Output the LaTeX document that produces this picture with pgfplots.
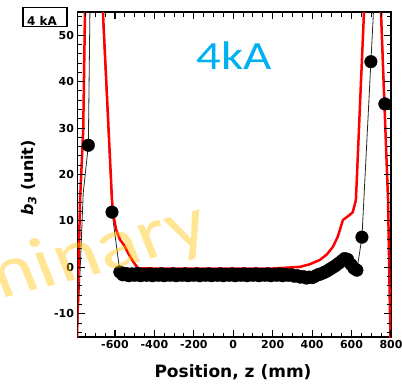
\documentclass[border=0pt]{standalone}
\usepackage{pgfplots}
\pgfplotsset{compat=1.18}
\usepackage{fontspec}
\setmainfont{DejaVu Sans}
\newfontfamily\carlito{Carlito}
\definecolor{wmorange}{RGB}{255,192,0}
\definecolor{kacyan}{RGB}{0,176,240}
\begin{document}
\begin{tikzpicture}
\useasboundingbox (0,0) rectangle (402pt,384pt);
\begin{axis}[
  at={(77.5pt,47pt)}, anchor=south west,
  width=313.5pt, height=325pt, scale only axis,
  xmin=-790, xmax=800, ymin=-15, ymax=55,
  axis line style={line width=1.4pt},
  xtick={-600,-400,-200,0,200,400,600,800},
  xticklabels={-600,-400,-200,0,200,400,600,800},
  ytick={-10,0,10,20,30,40,50},
  yticklabels={-10,0,10,20,30,40,50},
  minor xtick={-750,-700,...,750},
  minor ytick={-14,-12,...,54},
  xtick pos=both, ytick pos=both,
  major tick length=7pt, minor tick length=4.5pt,
  tick style={black, line width=1pt},
  major tick style={black, line width=1.1pt},
  tick label style={font=\bfseries\fontsize{11}{12}\selectfont},
]
% black connecting line (includes points hidden beyond the frame)
\addplot[black!85, line width=0.8pt] coordinates {
(-795,-20) (-761,16) (-735,26.3) (-714.6,99.6) (-615,11.9)
(-575,-1.0) (-560,-1.6) (-545,-1.3) (-530,-1.8) (-515,-1.4) (-500,-1.7)
(-485,-1.3) (-470,-1.8) (-455,-1.5) (-440,-1.7) (-425,-1.4) (-410,-1.8)
(-395,-1.5) (-380,-1.7) (-365,-1.4) (-350,-1.8) (-335,-1.5) (-320,-1.7)
(-305,-1.4) (-290,-1.8) (-275,-1.5) (-260,-1.7) (-245,-1.4) (-230,-1.8)
(-215,-1.5) (-200,-1.7) (-185,-1.4) (-170,-1.8) (-155,-1.5) (-140,-1.7)
(-125,-1.4) (-110,-1.8) (-95,-1.5) (-80,-1.7) (-65,-1.4) (-50,-1.8)
(-35,-1.5) (-20,-1.7) (-5,-1.4) (10,-1.8) (25,-1.5) (40,-1.7)
(55,-1.4) (70,-1.8) (85,-1.5) (100,-1.7) (115,-1.4) (130,-1.8)
(145,-1.5) (160,-1.7) (175,-1.4) (190,-1.8) (205,-1.5) (220,-1.7)
(235,-1.4) (250,-1.8) (265,-1.5) (280,-1.7) (295,-1.6) (310,-1.9)
(325,-1.8) (340,-2.1) (355,-2.0) (370,-2.3) (385,-2.1) (400,-2.2)
(415,-1.9) (430,-1.6) (445,-1.4) (460,-1.1) (475,-0.8) (490,-0.4)
(505,0.0) (520,0.4) (535,0.9) (550,1.4) (565,1.9) (580,1.7)
(598,0.6) (612,-0.2) (627,-0.6) (652.6,6.5) (698,44.3) (734,74) (769,35.2)
};
% black measured points
\addplot[only marks, mark=*, mark size=6.3pt, mark options={fill=black, draw=black}] coordinates {
(-735,26.3) (-615,11.9)
(-575,-1.0) (-560,-1.6) (-545,-1.3) (-530,-1.8) (-515,-1.4) (-500,-1.7)
(-485,-1.3) (-470,-1.8) (-455,-1.5) (-440,-1.7) (-425,-1.4) (-410,-1.8)
(-395,-1.5) (-380,-1.7) (-365,-1.4) (-350,-1.8) (-335,-1.5) (-320,-1.7)
(-305,-1.4) (-290,-1.8) (-275,-1.5) (-260,-1.7) (-245,-1.4) (-230,-1.8)
(-215,-1.5) (-200,-1.7) (-185,-1.4) (-170,-1.8) (-155,-1.5) (-140,-1.7)
(-125,-1.4) (-110,-1.8) (-95,-1.5) (-80,-1.7) (-65,-1.4) (-50,-1.8)
(-35,-1.5) (-20,-1.7) (-5,-1.4) (10,-1.8) (25,-1.5) (40,-1.7)
(55,-1.4) (70,-1.8) (85,-1.5) (100,-1.7) (115,-1.4) (130,-1.8)
(145,-1.5) (160,-1.7) (175,-1.4) (190,-1.8) (205,-1.5) (220,-1.7)
(235,-1.4) (250,-1.8) (265,-1.5) (280,-1.7) (295,-1.6) (310,-1.9)
(325,-1.8) (340,-2.1) (355,-2.0) (370,-2.3) (385,-2.1) (400,-2.2)
(415,-1.9) (430,-1.6) (445,-1.4) (460,-1.1) (475,-0.8) (490,-0.4)
(505,0.0) (520,0.4) (535,0.9) (550,1.4) (565,1.9) (580,1.7)
(598,0.6) (612,-0.2) (627,-0.6) (652.6,6.5) (698,44.3) (769,35.2)
};
% red calculated curve
\addplot[red, line width=2.5pt, line join=round] coordinates {
(-800,-30) (-791,-11.8) (-777,14.5) (-761,29.6) (-752,55) (-730,116)
(-661,55) (-615,14.5) (-610,11.8) (-594,8.1) (-575,6.0) (-554,4.8) (-530,2.8) (-503,0.95) (-483,-0.2)
(-400,-0.25) (-200,-0.25) (0,-0.25) (200,-0.25) (338,0.1)
(390,0.7) (439,1.6) (475,2.8) (505,4.4) (530,6.6) (556,10.2) (591,11.3) (606,11.9)
(622,14.5) (663,55) (709,100.5) (749,55) (785,14.5) (795,-10.2) (802,-25)
};
% frame tick marks (inside, on all four sides)
\pgfplotsinvokeforeach{-750,-700,...,750}{
  \draw[black, line width=1pt] (axis cs:#1,-15) -- ([yshift=4.5pt]axis cs:#1,-15);
  \draw[black, line width=1pt] (axis cs:#1,55) -- ([yshift=-4.5pt]axis cs:#1,55);
}
\pgfplotsinvokeforeach{-600,-400,...,800}{
  \draw[black, line width=1.1pt] (axis cs:#1,-15) -- ([yshift=7pt]axis cs:#1,-15);
  \draw[black, line width=1.1pt] (axis cs:#1,55) -- ([yshift=-7pt]axis cs:#1,55);
}
\pgfplotsinvokeforeach{-14,-12,...,54}{
  \draw[black, line width=1pt] (axis cs:-790,#1) -- ([xshift=4.5pt]axis cs:-790,#1);
  \draw[black, line width=1pt] (axis cs:800,#1) -- ([xshift=-4.5pt]axis cs:800,#1);
}
\pgfplotsinvokeforeach{-10,0,...,50}{
  \draw[black, line width=1.1pt] (axis cs:-790,#1) -- ([xshift=7pt]axis cs:-790,#1);
  \draw[black, line width=1.1pt] (axis cs:800,#1) -- ([xshift=-7pt]axis cs:800,#1);
}
\end{axis}
% panel tag
\draw[line width=1.2pt] (23pt,357.5pt) rectangle (67pt,376.7pt);
\node[anchor=base west, inner sep=0, font=\bfseries\fontsize{12}{12}\selectfont] at (27pt,359pt) {4 kA};
% axis labels
\node[rotate=90, font=\bfseries\fontsize{16}{16}\selectfont] at (29pt,206pt) {\textit{b}\textsubscript{\textit{3}} (unit)};
\node[anchor=base, font=\bfseries\fontsize{17}{17}\selectfont] at (233pt,7pt) {Position, z (mm)};
% big cyan title
\node[anchor=base, inner sep=0, text=kacyan, xscale=1.22, font=\carlito\fontsize{40}{40}\selectfont] at (234.5pt,315pt) {4kA};
% watermark
\node[anchor=base west, inner sep=0, xscale=1.22, rotate=18, text=wmorange, text opacity=0.42, font=\carlito\fontsize{72}{72}\selectfont] at (-24pt,78pt) {minary};
\end{tikzpicture}
\end{document}
